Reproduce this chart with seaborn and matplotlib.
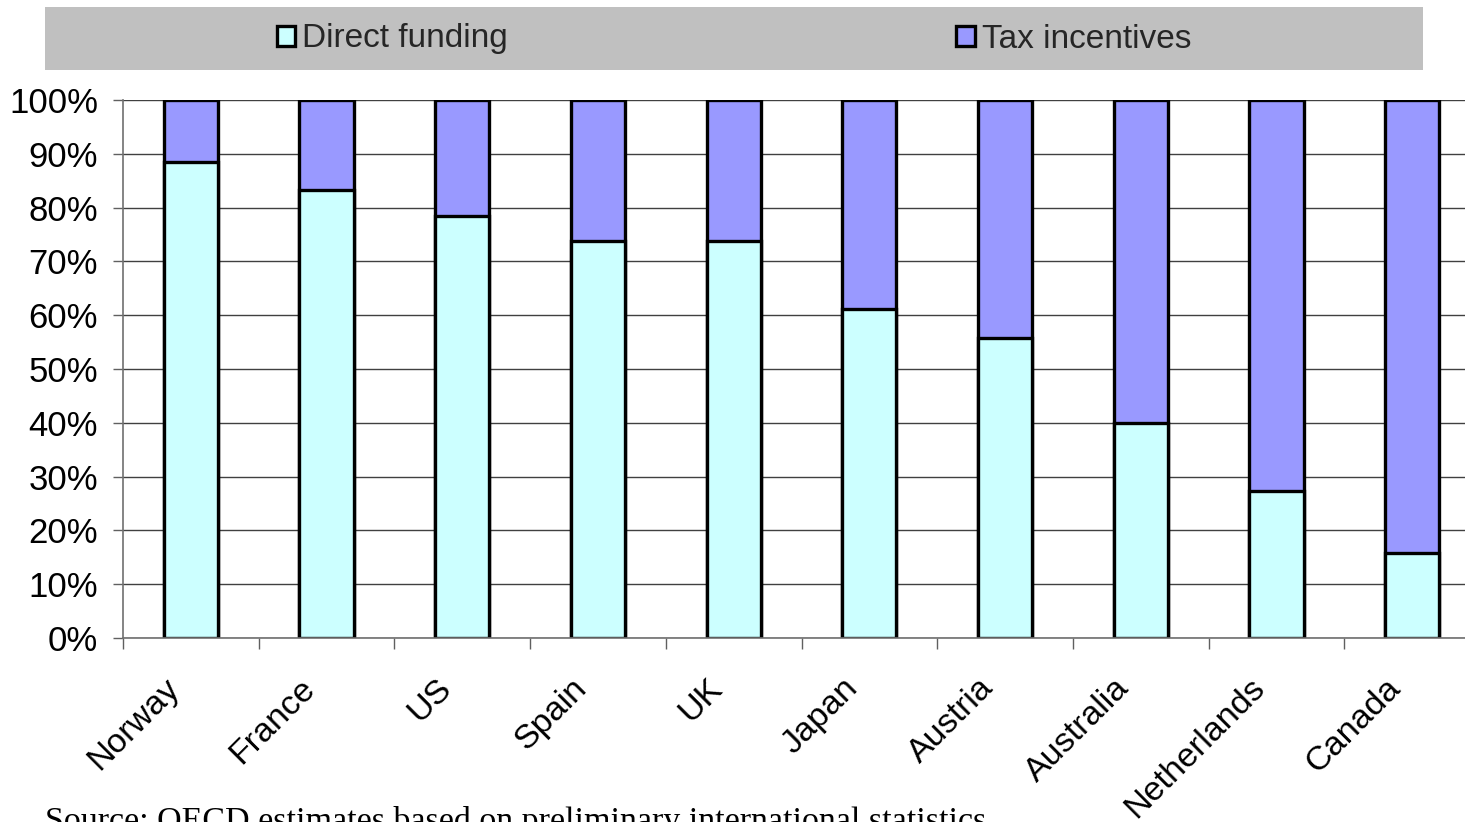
import matplotlib
matplotlib.use("Agg")
import matplotlib.pyplot as plt
from matplotlib.patches import Rectangle, Patch
from matplotlib.ticker import FixedLocator, PercentFormatter
from matplotlib.transforms import ScaledTranslation
import pandas as pd
import seaborn as sns

# Share of government support for business R&D (%)
countries = ["Norway", "France", "US", "Spain", "UK", "Japan",
             "Austria", "Australia", "Netherlands", "Canada"]
direct_funding = [88.4, 83.2, 78.4, 73.8, 73.8, 61.2, 55.8, 40.0, 27.3, 15.8]
tax_incentives = [11.6, 16.8, 21.6, 26.2, 26.2, 38.8, 44.2, 60.0, 72.7, 84.2]
series_names = ["Direct funding", "Tax incentives"]
y_ticks = [0, 10, 20, 30, 40, 50, 60, 70, 80, 90, 100]
source_note = "Source: OECD estimates based on preliminary international statistics"

CYAN = "#CCFFFF"
PURPLE = "#9999FF"
LEGEND_BG = "#C0C0C0"

sns.set_theme(style="white")
plt.rcParams["font.family"] = ["Liberation Sans", "DejaVu Sans"]

df = pd.DataFrame({
    "country": countries,
    "direct": direct_funding,
    "total": [d + t for d, t in zip(direct_funding, tax_incentives)],
})

fig = plt.figure(figsize=(14.65, 8.22), dpi=100)
W, H = 1465, 822
ax = fig.add_axes([123 / W, (H - 638) / H, (1480 - 123) / W, 538 / H])

# gridlines behind the bars
ax.set_axisbelow(True)
ax.yaxis.grid(True, color="#404040", linewidth=1.0)
ax.xaxis.grid(False)

bar_kw = dict(width=0.4, edgecolor="black", linewidth=2.4, saturation=1)
# full stack (direct + tax) in purple, then the direct share in cyan over it
sns.barplot(data=df, x="country", y="total", color=PURPLE, ax=ax, **bar_kw)
sns.barplot(data=df, x="country", y="direct", color=CYAN, ax=ax, **bar_kw)

ax.set_xlim(-0.5, len(countries) - 0.5)
ax.set_ylim(0, 100)
ax.set_xlabel("")
ax.set_ylabel("")

ax.yaxis.set_major_locator(FixedLocator(y_ticks))
ax.yaxis.set_major_formatter(PercentFormatter(decimals=0))
ax.tick_params(axis="y", which="major", left=True, length=7, width=1,
               color="#606060", pad=11, labelsize=25, labelcolor="black")

# category labels at the bar centres, tick marks between categories
ax.set_xticks(range(len(countries)))
ax.set_xticklabels(countries, rotation=45, ha="right", va="center",
                   rotation_mode="anchor", fontsize=24.5, color="black")
ax.tick_params(axis="x", which="major", bottom=False, length=0, pad=22)
shift = ScaledTranslation(-16 / 100, -15 / 100, fig.dpi_scale_trans)
for lbl in ax.get_xticklabels():
    lbl.set_transform(lbl.get_transform() + shift)
ax.set_xticks([i - 0.5 for i in range(len(countries) + 1)], minor=True)
ax.tick_params(axis="x", which="minor", bottom=True, length=8, width=1,
               color="#606060")

for side in ("top", "right"):
    ax.spines[side].set_visible(False)
for side in ("left", "bottom"):
    ax.spines[side].set_color("#707070")
    ax.spines[side].set_linewidth(1.2)

# legend band across the top
fig.patches.append(Rectangle((45 / W, (H - 70) / H), (1423 - 45) / W, 63 / H,
                             transform=fig.transFigure, facecolor=LEGEND_BG,
                             edgecolor="none", zorder=0))
handles = [Patch(facecolor=CYAN, edgecolor="black", linewidth=2.4),
           Patch(facecolor=PURPLE, edgecolor="black", linewidth=2.4)]
fig.legend(handles, series_names, loc="center left", ncol=2,
           bbox_to_anchor=(260 / W, (H - 39) / H), frameon=False,
           fontsize=24, handlelength=0.55, handleheight=0.55,
           handletextpad=0.22, columnspacing=13.45, borderpad=0)

# source note along the lower edge
fig.text(45 / W, -8 / H, source_note, family=["Liberation Serif", "DejaVu Serif"],
         fontsize=24.5, color="black", ha="left", va="baseline")

fig.savefig("out.png", dpi=100)
